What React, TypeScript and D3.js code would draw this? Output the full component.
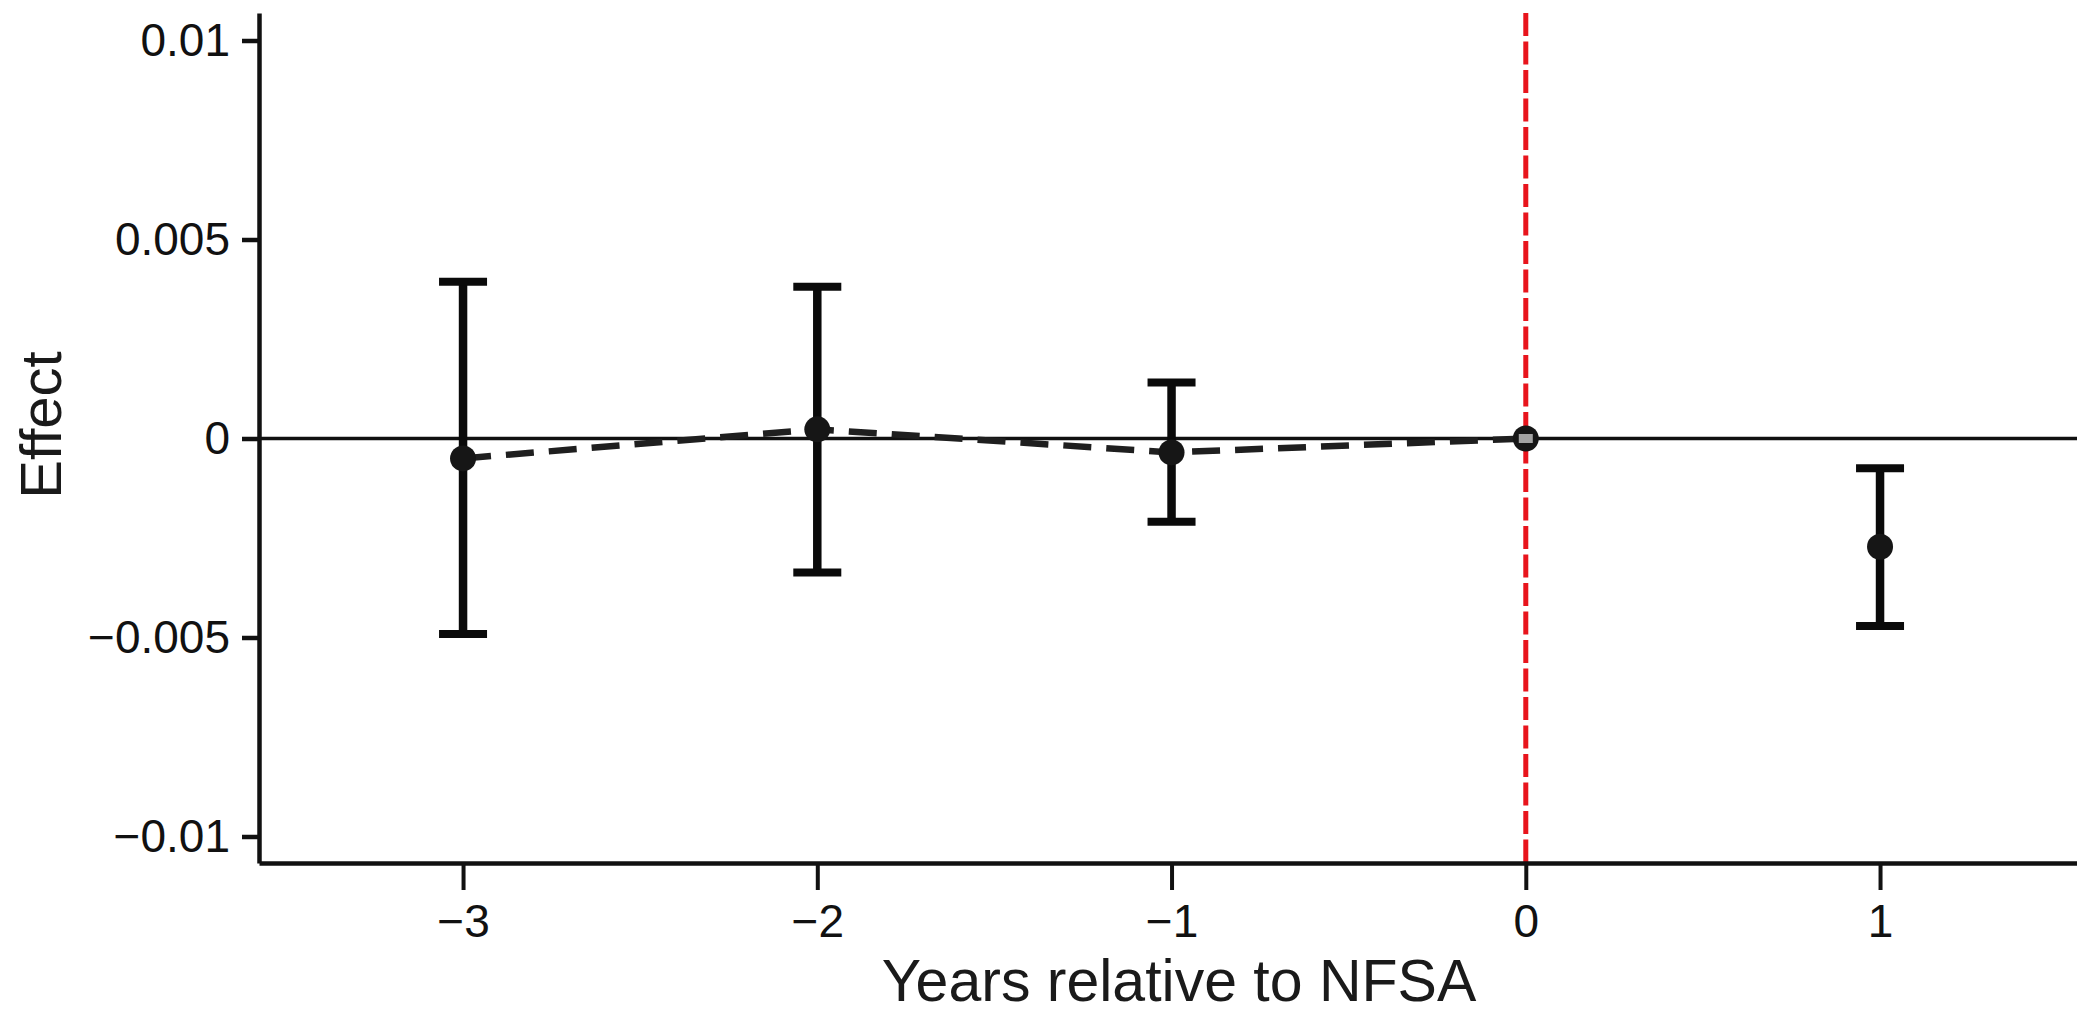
import React, { useEffect, useRef } from 'react';
import * as d3 from 'd3';

// event-study estimates, years relative to NFSA
const years = [-3, -2, -1, 0, 1];
const effect = [-0.0005, 0.00023, -0.00035, 0, -0.00272];
const ciLow = [-0.00491, -0.00337, -0.00209, null, -0.00471];
const ciHigh = [0.00394, 0.00381, 0.00141, null, -0.00075];
const preYears = [-3, -2, -1, 0];
const yTicks = [-0.01, -0.005, 0, 0.005, 0.01];
const yTickLabels = ['\u22120.01', '\u22120.005', '0', '0.005', '0.01'];
const xTickLabels = ['\u22123', '\u22122', '\u22121', '0', '1'];

const width = 2077;
const height = 1016;
const margin = { top: 13, right: 0, bottom: 153, left: 259 };
const font = '"Liberation Sans", Arial, Helvetica, sans-serif';

const App = () => {
  const chart = useRef<SVGSVGElement>(null);

  useEffect(() => {
    const svg = d3.select(chart.current);
    svg.selectAll('*').remove();

    const x = d3.scaleLinear()
      .domain([-3.576, 1.556])
      .range([margin.left, width - margin.right]);
    const y = d3.scaleLinear()
      .domain([-0.010666, 0.010691])
      .range([height - margin.bottom, margin.top]);

    const xAxis = g => g
      .attr('transform', `translate(0,${height - margin.bottom})`)
      .call(d3.axisBottom(x)
        .tickValues(years)
        .tickFormat((d, i) => xTickLabels[i])
        .tickSize(27)
        .tickPadding(14)
        .tickSizeOuter(0))
      .call(g => g.select('.domain').attr('stroke', '#111').attr('stroke-width', 4.5))
      .call(g => g.selectAll('.tick line').attr('stroke', '#111').attr('stroke-width', 4))
      .call(g => g.selectAll('.tick text')
        .attr('font-family', font)
        .attr('font-size', 46)
        .attr('fill', '#111'));

    const yAxis = g => g
      .attr('transform', `translate(${margin.left},0)`)
      .call(d3.axisLeft(y)
        .tickValues(yTicks)
        .tickFormat((d, i) => yTickLabels[i])
        .tickSize(17)
        .tickPadding(12)
        .tickSizeOuter(0))
      .call(g => g.select('.domain').attr('stroke', '#111').attr('stroke-width', 4.5))
      .call(g => g.selectAll('.tick line').attr('stroke', '#111').attr('stroke-width', 4.5))
      .call(g => g.selectAll('.tick text')
        .attr('font-family', font)
        .attr('font-size', 46)
        .attr('fill', '#111'));

    // zero reference line
    svg.append('line')
      .attr('x1', margin.left)
      .attr('x2', width)
      .attr('y1', y(0))
      .attr('y2', y(0))
      .attr('stroke', '#111')
      .attr('stroke-width', 3.5);

    // treatment year
    svg.append('line')
      .attr('x1', x(0))
      .attr('x2', x(0))
      .attr('y1', margin.top)
      .attr('y2', height - margin.bottom)
      .attr('stroke', '#e8141c')
      .attr('stroke-width', 5)
      .attr('stroke-dasharray', '23 5.5');

    svg.append('g').call(xAxis);
    svg.append('g').call(yAxis);

    // error bars
    const bars = svg.append('g')
      .attr('stroke', '#0a0a0a')
      .selectAll('g')
      .data(years.map((yr, i) => ({ yr, lo: ciLow[i], hi: ciHigh[i] })).filter(d => d.lo !== null))
      .join('g')
      .attr('transform', d => `translate(${x(d.yr)},0)`);

    bars.append('line')
      .attr('y1', d => y(d.lo))
      .attr('y2', d => y(d.hi))
      .attr('stroke-width', 8.5);
    bars.append('line')
      .attr('x1', -24).attr('x2', 24)
      .attr('y1', d => y(d.hi)).attr('y2', d => y(d.hi))
      .attr('stroke-width', 8);
    bars.append('line')
      .attr('x1', -24).attr('x2', 24)
      .attr('y1', d => y(d.lo)).attr('y2', d => y(d.lo))
      .attr('stroke-width', 8);

    // dashed pre-trend line
    const line = d3.line<number>()
      .x(d => x(d))
      .y(d => y(effect[years.indexOf(d)]));
    svg.append('path')
      .datum(preYears)
      .attr('d', line)
      .attr('fill', 'none')
      .attr('stroke', '#1f1f1f')
      .attr('stroke-width', 6.5)
      .attr('stroke-dasharray', '28 15');

    // point estimates
    svg.append('g')
      .selectAll('circle')
      .data(years)
      .join('circle')
      .attr('cx', d => x(d))
      .attr('cy', (d, i) => y(effect[i]))
      .attr('r', 13)
      .attr('fill', '#161616');

    svg.append('rect')
      .attr('x', x(0) - 7)
      .attr('y', y(0) - 4.5)
      .attr('width', 14)
      .attr('height', 9)
      .attr('fill', '#a3a3a3');

    svg.append('text')
      .attr('x', 1179)
      .attr('y', 1001)
      .attr('text-anchor', 'middle')
      .attr('font-family', font)
      .attr('font-size', 59)
      .attr('fill', '#1a1a1a')
      .text('Years relative to NFSA');

    svg.append('text')
      .attr('transform', `translate(61,425) rotate(-90)`)
      .attr('text-anchor', 'middle')
      .attr('font-family', font)
      .attr('font-size', 58)
      .attr('fill', '#1a1a1a')
      .text('Effect');
  }, []);

  return (
    <svg
      ref={chart}
      width={width}
      height={height}
      style={{ position: 'absolute', left: 0, top: 0, background: '#fff' }}
    />
  );
};

export default App;
